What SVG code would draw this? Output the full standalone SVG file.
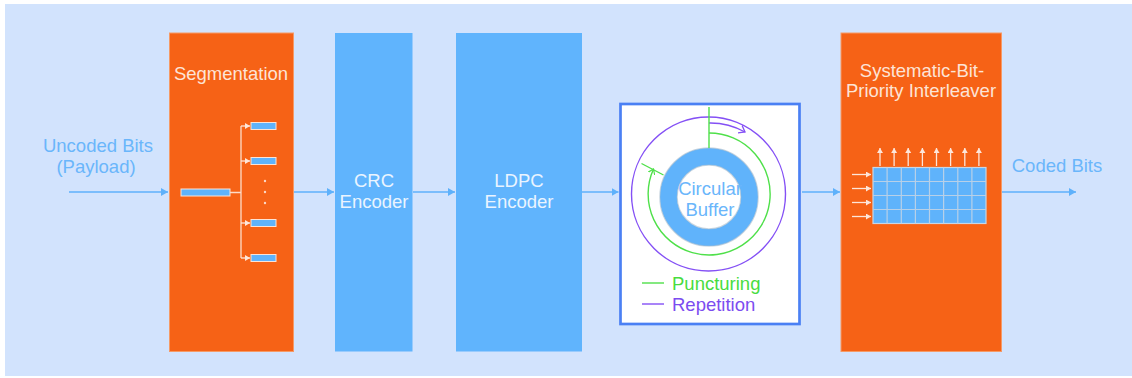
<svg xmlns="http://www.w3.org/2000/svg" width="1132" height="378" viewBox="0 0 1132 378">
  <defs>
    <style>
      text { font-family: "Liberation Sans", Arial, Helvetica, sans-serif; font-size: 18.5px; text-anchor: middle; }
      .lbl { fill: #6ab6fb; }
      .orange { fill: #f66216; stroke: #f59a66; stroke-width: 1; }
      .blue { fill: #60b4fd; }
      .ontxt-o { fill: #fde4d6; }
      .ontxt-b { fill: #eaf4ff; }
      .conn { stroke: #5eb1fb; stroke-width: 1.4; fill: none; marker-end: url(#arrow); }
      .wline { stroke: #fcdcca; stroke-width: 1.3; fill: none; }
      .warrow { stroke: #fde6da; stroke-width: 1.3; fill: none; marker-end: url(#warr); }
      .bar { fill: #5fb3fb; stroke: #fbe3d6; stroke-width: 1; }
      .grid { stroke: #b7d0e8; stroke-width: 1.2; }
      .green { stroke: #4fe04a; stroke-width: 1.4; fill: none; }
      .purple { stroke: #8450f5; stroke-width: 1.4; fill: none; }
      .ringedge { fill: none; stroke: #a9bccd; stroke-width: 1.2; stroke-opacity: 0.6; }
    </style>
    <marker id="arrow" markerUnits="userSpaceOnUse" markerWidth="8" markerHeight="9" refX="7" refY="4" orient="auto">
      <path d="M0,0 L7,4 L0,8 z" fill="#5eb1fb"/>
    </marker>
    <marker id="warr" markerUnits="userSpaceOnUse" markerWidth="7" markerHeight="7" refX="5" refY="3" orient="auto">
      <path d="M0,0 L5,3 L0,6 z" fill="#fde6da"/>
    </marker>
    <marker id="garr" markerUnits="userSpaceOnUse" markerWidth="8" markerHeight="8" refX="5" refY="4" orient="auto">
      <path d="M0,0.5 L5,4 L0,7.5" fill="none" stroke="#4fe04a" stroke-width="1.2"/>
    </marker>
    <marker id="parr" markerUnits="userSpaceOnUse" markerWidth="9" markerHeight="9" refX="6" refY="4.5" orient="auto">
      <path d="M0,0 L6,4.5 L0,9" fill="none" stroke="#8450f5" stroke-width="1.3"/>
    </marker>
  </defs>

  <!-- backdrop -->
  <rect x="5" y="4" width="1127" height="372" fill="#d2e3fd"/>

  <!-- input label -->
  <g id="input">
    <text class="lbl" x="98" y="152">Uncoded Bits</text>
    <text class="lbl" x="96" y="173">(Payload)</text>
  </g>

  <!-- segmentation block -->
  <g id="segmentation">
    <rect class="orange" x="169.5" y="33" width="124" height="318.5"/>
    <text class="ontxt-o" x="231" y="80">Segmentation</text>
    <rect class="bar" x="181" y="189" width="49" height="7"/>
    <path class="wline" d="M230,192.5 H241 M241,126 V258"/>
    <path class="warrow" d="M241,126 H250"/>
    <path class="warrow" d="M241,161 H250"/>
    <path class="warrow" d="M241,223 H250"/>
    <path class="warrow" d="M241,258 H250"/>
    <rect class="bar" x="251" y="122.5" width="25" height="7"/>
    <rect class="bar" x="251" y="157.5" width="25" height="7"/>
    <rect class="bar" x="251" y="219.5" width="25" height="7"/>
    <rect class="bar" x="251" y="254.5" width="25" height="7"/>
    <circle cx="265" cy="181" r="1.2" fill="#fbd8c6"/>
    <circle cx="265" cy="192" r="1.2" fill="#fbd8c6"/>
    <circle cx="265" cy="203" r="1.2" fill="#fbd8c6"/>
  </g>

  <!-- CRC encoder -->
  <g id="crc">
    <rect class="blue" x="335" y="33" width="77.5" height="318.5"/>
    <text class="ontxt-b" x="374" y="187">CRC</text>
    <text class="ontxt-b" x="374" y="208">Encoder</text>
  </g>

  <!-- LDPC encoder -->
  <g id="ldpc">
    <rect class="blue" x="456" y="33" width="126" height="318.5"/>
    <text class="ontxt-b" x="519" y="187">LDPC</text>
    <text class="ontxt-b" x="519" y="208">Encoder</text>
  </g>

  <!-- circular buffer rate matching -->
  <g id="circular-buffer">
    <rect x="620.5" y="104" width="179" height="220" fill="#ffffff" stroke="#4a80f4" stroke-width="2.7"/>
    <circle cx="709" cy="197" r="40.5" fill="none" stroke="#60b3fb" stroke-width="17"/>
    <circle class="ringedge" cx="709" cy="197" r="49.2"/>
    <circle class="ringedge" cx="709" cy="197" r="31.8"/>
    <text class="lbl" x="710" y="195">Circular</text>
    <text class="lbl" x="710" y="216">Buffer</text>
    <!-- repetition: full turn plus a wrap-around past the start -->
    <circle class="purple" cx="708.5" cy="194" r="77"/>
    <path class="purple" d="M709,123 A71,71 0 0 1 745,132" marker-end="url(#parr)"/>
    <!-- puncturing: stops short of a full turn -->
    <path class="green" d="M709,133 A61,61 0 1 1 653.5,169" marker-end="url(#garr)"/>
    <path class="green" d="M709,107 V148 M641.5,163.5 L663.5,175"/>
    <path class="green" d="M642,283 H664"/>
    <path class="purple" d="M642,304 H664"/>
    <text x="672" y="290" fill="#48dc3f" style="text-anchor:start">Puncturing</text>
    <text x="672" y="311" fill="#7c4cf0" style="text-anchor:start">Repetition</text>
  </g>

  <!-- interleaver -->
  <g id="interleaver">
    <rect class="orange" x="841" y="33" width="160.5" height="318.5"/>
    <text class="ontxt-o" x="922" y="77">Systematic-Bit-</text>
    <text class="ontxt-o" x="921" y="97">Priority Interleaver</text>
    <rect x="873" y="167.5" width="113" height="56" fill="#5fb3fb" stroke="#c9d6e4" stroke-width="1.2"/>
    <path class="grid" d="M887.1,167.5 V223.5 M901.3,167.5 V223.5 M915.4,167.5 V223.5 M929.5,167.5 V223.5 M943.6,167.5 V223.5 M957.8,167.5 V223.5 M971.9,167.5 V223.5 M873,181.5 H986 M873,195.5 H986 M873,209.5 H986"/>
    <path class="warrow" d="M880,166 V148"/>
    <path class="warrow" d="M894.1,166 V148"/>
    <path class="warrow" d="M908.2,166 V148"/>
    <path class="warrow" d="M922.4,166 V148"/>
    <path class="warrow" d="M936.5,166 V148"/>
    <path class="warrow" d="M950.6,166 V148"/>
    <path class="warrow" d="M964.8,166 V148"/>
    <path class="warrow" d="M978.9,166 V148"/>
    <path class="warrow" d="M852,174.5 H871"/>
    <path class="warrow" d="M852,188.5 H871"/>
    <path class="warrow" d="M852,202.5 H871"/>
    <path class="warrow" d="M852,216.5 H871"/>
  </g>

  <!-- output label -->
  <g id="output">
    <text class="lbl" x="1057" y="172">Coded Bits</text>
  </g>

  <!-- connectors -->
  <g id="connectors">
    <path class="conn" d="M69,192 H168"/>
    <path class="conn" d="M294,192 H334"/>
    <path class="conn" d="M413,192 H455"/>
    <path class="conn" d="M582,192 H618.5"/>
    <path class="conn" d="M802,192 H840"/>
    <path class="conn" d="M1002,192 H1076"/>
  </g>
</svg>
